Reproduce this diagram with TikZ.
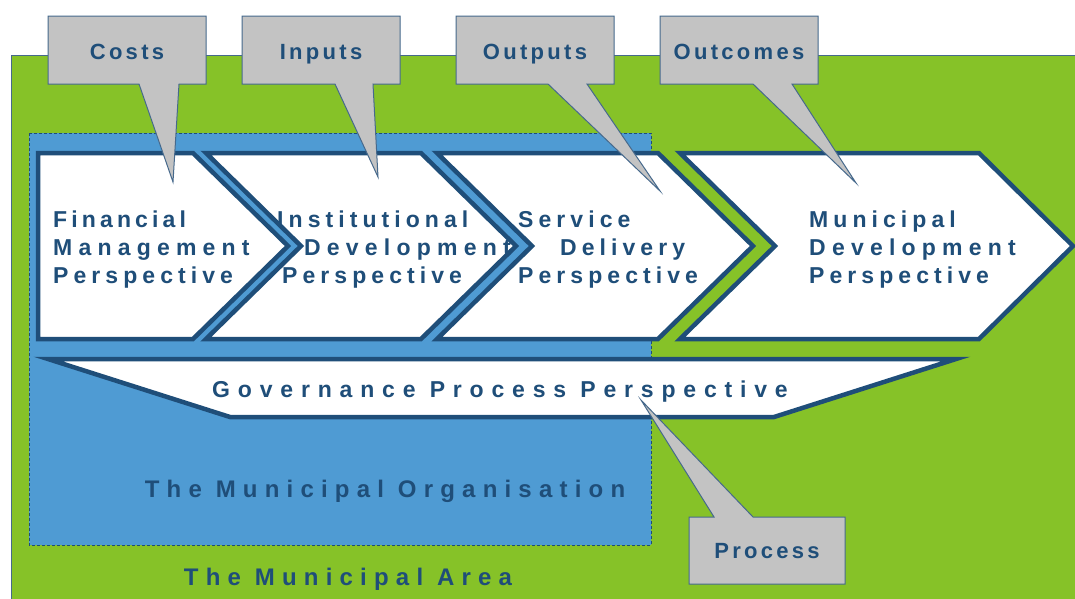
\documentclass[tikz,border=0pt]{standalone}
\usepackage{fontspec}
\setmainfont{Liberation Sans}
\newfontfamily\chfont{Liberation Sans}[LetterSpace=22]
\newfontfamily\chnfont{Liberation Sans}[LetterSpace=18]
\newfontfamily\chwfont{Liberation Sans}[LetterSpace=27]
\newfontfamily\govfont{Liberation Sans}[LetterSpace=34]
\newfontfamily\lsfont{Liberation Sans}[LetterSpace=30]
\newfontfamily\cofont{Liberation Sans}[LetterSpace=15]
\definecolor{areagreen}{RGB}{134,194,40}
\definecolor{orgblue}{RGB}{79,155,211}
\definecolor{darkblue}{RGB}{31,78,121}
\definecolor{callgray}{RGB}{195,195,195}
\definecolor{rimblue}{RGB}{70,105,140}
\tikzset{
  chevron/.style={draw=darkblue, line width=4.5pt, fill=white, line join=miter},
  callout/.style={draw=rimblue, line width=1pt, fill=callgray, line join=miter},
  ctext/.style={font=\chfont\bfseries\fontsize{23}{28}\selectfont, text=darkblue, inner sep=0pt, anchor=base west},
  cntext/.style={ctext, font=\chnfont\bfseries\fontsize{23}{28}\selectfont},
  cwtext/.style={ctext, font=\chwfont\bfseries\fontsize{23}{28}\selectfont},
  gtext/.style={font=\govfont\bfseries\fontsize{23}{28}\selectfont, text=darkblue, inner sep=0pt, anchor=base},
  btext/.style={font=\lsfont\bfseries\fontsize{24}{28.5}\selectfont, text=darkblue, inner sep=0pt, anchor=base},
  ltext/.style={font=\cofont\bfseries\fontsize{22}{26}\selectfont, text=darkblue, inner sep=0pt, anchor=base},
}
\begin{document}
\begin{tikzpicture}[x=1pt,y=-1pt]
\useasboundingbox (0,0) rectangle (1075,598);
% municipal area
\fill[white] (0,0) rectangle (1075,598);
\draw[fill=areagreen, draw=rimblue, line width=1pt] (11,55) rectangle (1085,610);
% municipal organisation
\draw[fill=orgblue, draw=darkblue, line width=1pt, dash pattern=on 3pt off 2pt] (29,133) rectangle (651,545);
% chevrons
\draw[chevron] (38,153) -- (193,153) -- (288,246) -- (193,339) -- (38,339) -- cycle;
\draw[chevron] (206,153) -- (421,153) -- (516,246) -- (421,339) -- (206,339) -- (301,246) -- cycle;
\draw[chevron] (437,153) -- (658,153) -- (753,246) -- (658,339) -- (437,339) -- (532,246) -- cycle;
\draw[chevron] (680,153) -- (979,153) -- (1073,246) -- (979,339) -- (680,339) -- (775,246) -- cycle;
% governance
\draw[chevron] (48,359) -- (956,359) -- (774,417) -- (230,417) -- cycle;
% chevron texts
\node[cntext] (f1) at (53,227) {Financial};
\node[cwtext] (f2) at (53,255) {Management};
\node[ctext] (f3) at (53,283) {Perspective};
\node[ctext] (i1) at (277,227) {Institutional};
\node[cwtext] (i2) at (304,255) {Development};
\node[ctext] (i3) at (282,283) {Perspective};
\node[ctext] (s1) at (518,227) {Service};
\node[ctext] (s2) at (560,255) {Delivery};
\node[ctext] (s3) at (518,283) {Perspective};
\node[ctext] (m1) at (809,227) {Municipal};
\node[cwtext] (m2) at (809,255) {Development};
\node[ctext] (m3) at (809,283) {Perspective};
\node[gtext] (gov) at (500,397) {Governance Process Perspective};
\node[btext] (org) at (385,497) {The Municipal Organisation};
\node[btext] (area) at (348,585) {The Municipal Area};
% callouts
\draw[callout] (48,16) -- (206,16) -- (206,84) -- (179,84) -- (173,182) -- (139,84) -- (48,84) -- cycle;
\draw[callout] (242,16) -- (400,16) -- (400,84) -- (373,84) -- (378,177) -- (335,84) -- (242,84) -- cycle;
\draw[callout] (456,16) -- (614,16) -- (614,84) -- (587,84) -- (660,191) -- (548,84) -- (456,84) -- cycle;
\draw[callout] (660,16) -- (818,16) -- (818,84) -- (792,84) -- (856,183) -- (753,84) -- (660,84) -- cycle;
\draw[callout] (689,517) -- (714,517) -- (641,400) -- (753,517) -- (845,517) -- (845,584) -- (689,584) -- cycle;
\node[ltext] (costs) at (127,59) {Costs};
\node[ltext] (inputs) at (321,59) {Inputs};
\node[ltext] (outputs) at (535,59) {Outputs};
\node[ltext] (outcomes) at (739,59) {Outcomes};
\node[ltext] (process) at (767,558) {Process};
\end{tikzpicture}
\end{document}
